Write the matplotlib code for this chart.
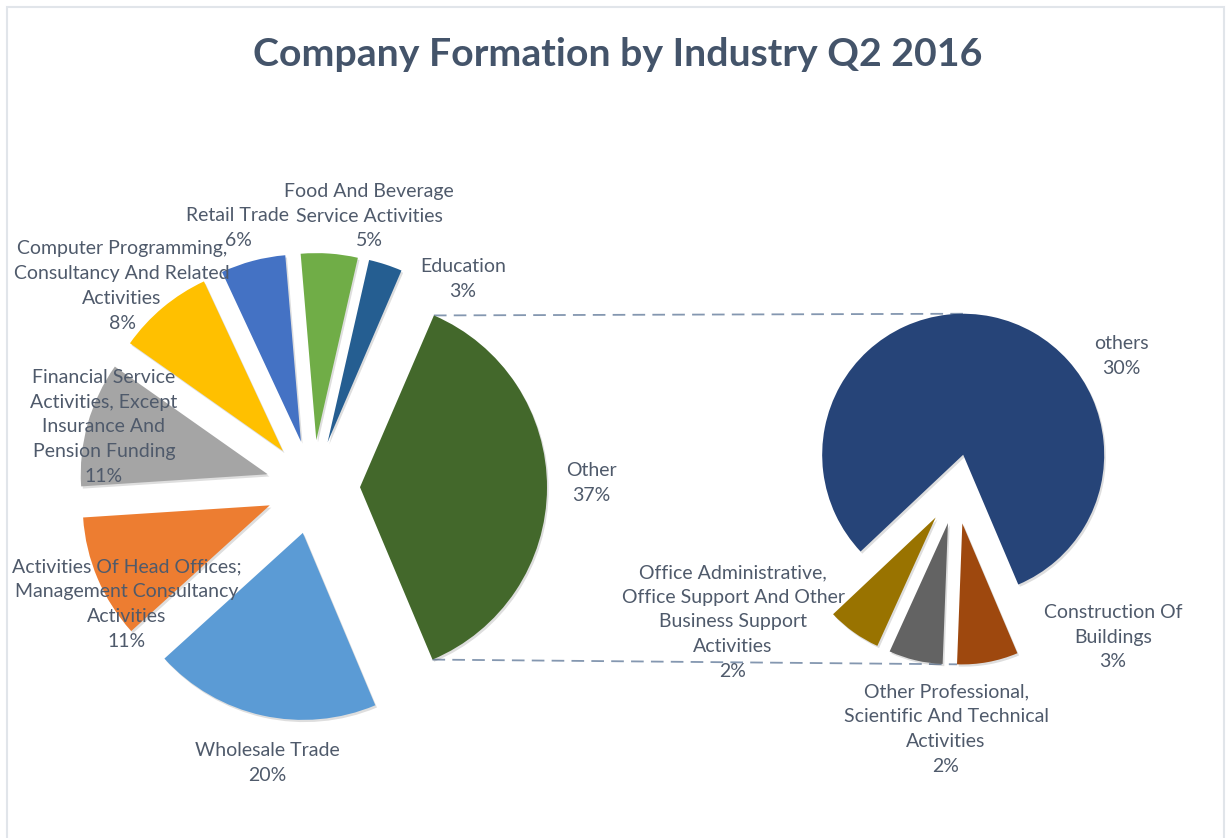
'''Gráfico pie-of-pie: constitución de empresas por industria, Q2 2016'''

import numpy as np
import matplotlib.pyplot as plt
from matplotlib.patches import Rectangle

plt.rcParams['font.family'] = ['Lato', 'DejaVu Sans']

W, H = 1229, 838  # tamaño de la figura en píxeles

# pastel principal: empieza con 'Other' y sigue en sentido antihorario
main_names = ["Other",
              "Education",
              "Food And Beverage\nService Activities",
              "Retail Trade",
              "Computer Programming,\nConsultancy And Related\nActivities",
              "Financial Service\nActivities, Except\nInsurance And\nPension Funding",
              "Activities Of Head Offices;\nManagement Consultancy\nActivities",
              "Wholesale Trade"]
main_values = [37.2, 2.9, 4.9, 5.6, 8.3, 10.8, 10.7, 19.6]
main_colors = ["#43682B", "#255E91", "#70AD47", "#4472C4",
               "#FFC000", "#A5A5A5", "#ED7D31", "#5B9BD5"]

# pastel secundario (desglose de 'Other')
sub_names = ["others",
             "Office Administrative,\nOffice Support And Other\nBusiness Support\nActivities",
             "Other Professional,\nScientific And Technical\nActivities",
             "Construction Of\nBuildings"]
sub_values = [30.0, 2.3, 2.3, 2.6]
sub_colors = ["#264478", "#997300", "#636363", "#9E480E"]

# posiciones de las etiquetas (px, y desde arriba)
main_label_pos = [(591, 483), (463, 279), (369, 216), (238, 228),
                  (122, 286), (104, 427), (127, 604), (267, 763)]
sub_label_pos = [(1121, 356), (733, 622), (946, 729), (1113, 637)]

fig = plt.figure(figsize=(W / 100, H / 100), dpi=100)
ax = fig.add_axes([0, 0, 1, 1])

sombra = {'ox': 1.2, 'oy': -1.6, 'shade': 1.0, 'alpha': 0.13}

wedges_main, _ = ax.pie(main_values, colors=main_colors, startangle=-67.2,
                        radius=187, center=(313, H - 487),
                        explode=[47] * len(main_values), shadow=sombra,
                        wedgeprops=dict(linewidth=0))

wedges_sub, _ = ax.pie(sub_values, colors=sub_colors, startangle=-67,
                       radius=141, center=(956, H - 489),
                       explode=[35] * len(sub_values), shadow=sombra,
                       wedgeprops=dict(linewidth=0))

# líneas de conexión entre los dos pasteles
w_o = wedges_main[0]
ox, oy = w_o.center
t1, t2 = np.radians(w_o.theta1), np.radians(w_o.theta2)
top_l = (ox + w_o.r * np.cos(t2), oy + w_o.r * np.sin(t2))
bot_l = (ox + w_o.r * np.cos(t1), oy + w_o.r * np.sin(t1))
w_s = wedges_sub[0]
top_r = (w_s.center[0], w_s.center[1] + w_s.r)
w_c = wedges_sub[-1]
tc = np.radians(w_c.theta1)
bot_r = (w_c.center[0] + w_c.r * np.cos(tc), w_c.center[1] + w_c.r * np.sin(tc))
for a, b in [(top_l, top_r), (bot_l, bot_r)]:
    ax.plot([a[0], b[0]], [a[1], b[1]], color="#8497B0", lw=1.3,
            dashes=(7, 4), zorder=0.5)

# etiquetas
txt = dict(ha='center', va='center', fontsize=14, color='#4F5A6B',
           linespacing=1.55, zorder=5)
for name, v, (x, y) in zip(main_names, main_values, main_label_pos):
    ax.text(x, H - y, f"{name}\n{v:.0f}%", **txt)
for name, v, (x, y) in zip(sub_names, sub_values, sub_label_pos):
    ax.text(x, H - y, f"{name}\n{v:.0f}%", **txt)

ax.text(618, H - 55, "Company Formation by Industry Q2 2016", ha='center',
        va='center', fontsize=28.3, fontweight='bold', color='#44546A')

# borde del área del gráfico
ax.add_patch(Rectangle((7, -10), 1217, H - 7 + 10, fill=False,
                       edgecolor='#E1E5EA', lw=1.5, zorder=0))

ax.set_xlim(0, W)
ax.set_ylim(0, H)
ax.axis('off')
fig.savefig("out.png", dpi=100)
